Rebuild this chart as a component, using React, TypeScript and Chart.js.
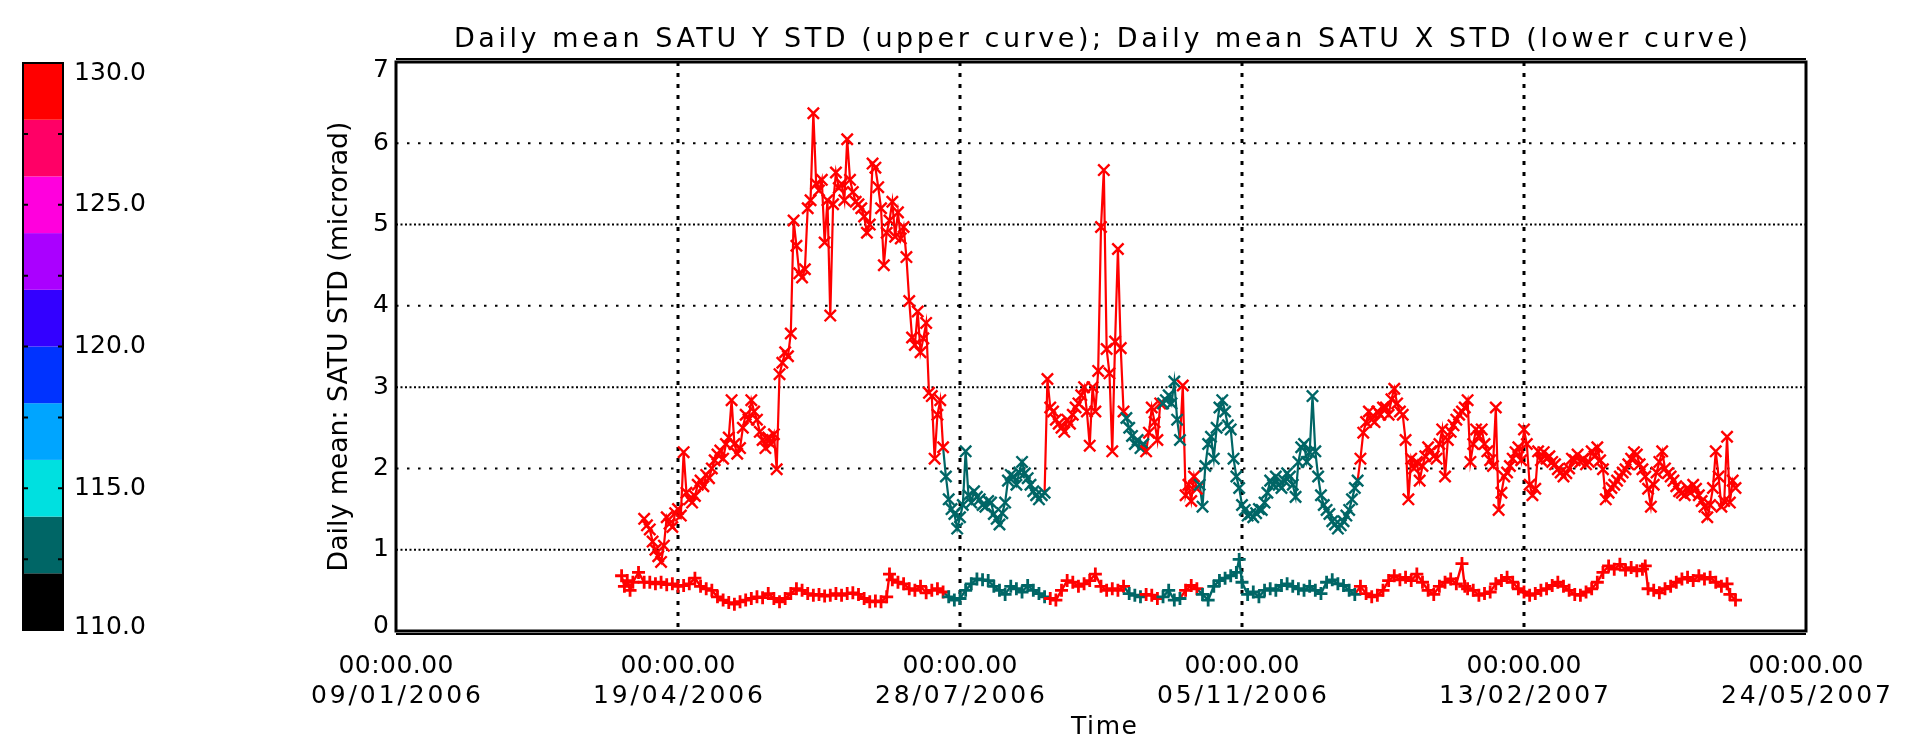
import React, { useEffect, useRef } from "react";
import { Chart, registerables } from "chart.js";

Chart.register(...registerables);

// ---------------- text ----------------
const TITLE = "Daily mean SATU Y STD (upper curve); Daily mean SATU X STD (lower curve)";
const Y_TITLE = "Daily mean: SATU STD (microrad)";
const X_TITLE = "Time";

// ---------------- axes (x in days since 09/01/2006 00:00) ----------------
const xTickDays = [0, 100, 200, 300, 400, 500];
const xTickTimes = ["00:00.00", "00:00.00", "00:00.00", "00:00.00", "00:00.00", "00:00.00"];
const xTickDates = ["09/01/2006", "19/04/2006", "28/07/2006", "05/11/2006", "13/02/2007", "24/05/2007"];
const yTickValues = [0, 1, 2, 3, 4, 5, 6, 7];
const yTickLabels = ["0", "1", "2", "3", "4", "5", "6", "7"];

// ---------------- colour bar ----------------
const colorbarLevels = [110, 112, 114, 116, 118, 120, 122, 124, 126, 128, 130];
const colorbarColors = ["#000000", "#006666", "#00e0e0", "#00a5ff", "#0033ff", "#3300ff", "#aa00ff", "#ff00dd", "#ff0066", "#ff0000"];
const colorbarTickValues = [112.5, 115, 117.5, 120, 122.5, 125, 127.5];
const colorbarLabelValues = [130, 125, 120, 115, 110];
const colorbarLabels = ["130.0", "125.0", "120.0", "115.0", "110.0"];

// day spans where the colour-coded quantity is in the 112-114 band (teal); else 128-130 (red)
const tealSpans = [[195, 230], [259, 265], [272, 278], [285, 341]];
const RED = "#ff0000";
const TEAL = "#006666";

// ---------------- upper curve: daily mean SATU Y STD, one value per day from day 88 ----------------
const upperStartDay = 88;
const upperValues = [
  1.38, 1.30, 1.25, 1.10, 1.00, 0.92, 0.85, 1.05, 1.40, 1.32, 1.28, 1.45,
  1.50, 1.42, 2.20, 1.70, 1.62, 1.58, 1.66, 1.80, 1.85, 1.78, 1.92, 1.88,
  2.00, 2.10, 2.17, 2.22, 2.12, 2.30, 2.38, 2.84, 2.30, 2.18, 2.25, 2.50,
  2.66, 2.60, 2.84, 2.70, 2.60, 2.45, 2.35, 2.25, 2.38, 2.30, 2.42, 1.99,
  3.16, 3.30, 3.43, 3.38, 3.66, 5.05, 4.74, 4.40, 4.35, 4.45, 5.20, 5.30,
  6.37, 5.50, 5.42, 5.55, 4.78, 5.30, 3.88, 5.25, 5.64, 5.45, 5.50, 5.30,
  6.05, 5.55, 5.40, 5.28, 5.25, 5.20, 5.10, 4.90, 5.00, 5.75, 5.70, 5.46,
  5.20, 4.50, 4.90, 5.05, 5.28, 4.85, 5.15, 4.83, 4.97, 4.60, 4.06, 3.61,
  3.52, 3.93, 3.43, 3.60, 3.79, 2.93, 2.89, 2.12, 2.66, 2.84, 2.26, 1.90,
  1.62, 1.50, 1.44, 1.26, 1.40, 1.55, 2.21, 1.67, 1.58, 1.72, 1.65, 1.62,
  1.55, 1.53, 1.60, 1.58, 1.44, 1.38, 1.31, 1.45, 1.58, 1.85, 1.92, 1.90,
  1.80, 1.95, 2.08, 1.94, 1.88, 1.80, 1.72, 1.67, 1.62, 1.67, 1.70, 3.10,
  2.75, 2.70, 2.60, 2.55, 2.50, 2.45, 2.60, 2.55, 2.66, 2.75, 2.80, 2.90,
  3.00, 2.70, 2.28, 3.00, 2.70, 3.20, 4.97, 5.67, 3.47, 3.17, 2.21, 3.56,
  4.70, 3.48, 2.70, 2.62, 2.50, 2.40, 2.30, 2.35, 2.25, 2.30, 2.21, 2.44,
  2.75, 2.57, 2.35, 2.80, 2.80, 2.84, 2.90, 2.80, 3.07, 2.60, 2.35, 3.02,
  1.67, 1.80, 1.60, 1.90, 1.75, 1.80, 1.53, 2.03, 2.30, 2.39, 2.12, 2.50,
  2.75, 2.84, 2.70, 2.53, 2.48, 2.12, 1.90, 1.76, 1.55, 1.49, 1.42, 1.44,
  1.40, 1.45, 1.50, 1.49, 1.58, 1.70, 1.85, 1.80, 1.90, 1.80, 1.76, 1.85,
  1.94, 1.90, 1.80, 1.65, 2.08, 2.26, 2.30, 2.08, 2.20, 2.89, 2.21, 1.90,
  1.67, 1.55, 1.49, 1.44, 1.35, 1.31, 1.26, 1.30, 1.35, 1.42, 1.49, 1.62,
  1.76, 1.85, 2.12, 2.44, 2.57, 2.70, 2.60, 2.57, 2.70, 2.66, 2.75, 2.75,
  2.66, 2.85, 2.98, 2.80, 2.70, 2.66, 2.35, 1.62, 2.12, 2.00, 2.08, 1.85,
  2.03, 2.15, 2.26, 2.21, 2.15, 2.12, 2.30, 2.48, 1.90, 2.35, 2.45, 2.53,
  2.60, 2.66, 2.70, 2.75, 2.84, 2.08, 2.30, 2.48, 2.40, 2.48, 2.30, 2.21,
  2.10, 2.03, 2.75, 1.49, 1.70, 1.90, 1.95, 2.03, 2.12, 2.20, 2.26, 2.10,
  2.48, 2.30, 1.80, 1.67, 1.75, 2.21, 2.10, 2.20, 2.12, 2.15, 2.08, 2.05,
  1.99, 1.95, 1.90, 1.94, 2.00, 2.12, 2.10, 2.17, 2.08, 2.12, 2.05, 2.08,
  2.21, 2.15, 2.26, 2.10, 1.99, 1.62, 1.70, 1.76, 1.80, 1.85, 1.90, 1.95,
  1.99, 2.05, 2.12, 2.20, 2.17, 2.05, 1.99, 1.90, 1.75, 1.53, 1.80, 1.95,
  2.08, 2.21, 2.00, 1.94, 1.90, 1.85, 1.78, 1.72, 1.70, 1.67, 1.76, 1.70,
  1.80, 1.75, 1.67, 1.60, 1.53, 1.40, 1.55, 1.76, 2.21, 1.90, 1.53, 1.60,
  2.39, 1.58, 1.85, 1.76,
];

// ---------------- lower curve: daily mean SATU X STD ----------------
const lowerDays = [
  80, 81, 82, 83, 84, 86, 88, 90, 92, 94, 96, 98, 100, 102, 104, 106, 108, 110,
  112, 114, 116, 118, 120, 122, 124, 126, 128, 130, 132, 134, 136, 138, 140,
  142, 144, 146, 148, 150, 152, 154, 156, 158, 160, 162, 164, 166, 168, 170,
  172, 174, 175, 176, 178, 180, 182, 184, 186, 188, 190, 192, 194, 196, 198,
  200, 202, 204, 206, 208, 210, 212, 214, 216, 218, 220, 222, 224, 226, 228,
  230, 232, 234, 236, 238, 240, 242, 244, 246, 248, 250, 252, 254, 256, 258,
  260, 262, 264, 266, 268, 270, 272, 274, 276, 278, 280, 282, 284, 286, 288,
  290, 292, 294, 296, 298, 299, 300, 302, 304, 306, 308, 310, 312, 314, 316,
  318, 320, 322, 324, 326, 328, 330, 332, 334, 336, 338, 340, 342, 344, 346,
  348, 350, 352, 354, 356, 358, 360, 362, 364, 366, 368, 370, 372, 374, 376,
  378, 379, 380, 382, 384, 386, 388, 390, 392, 394, 396, 398, 400, 402, 404,
  406, 408, 410, 412, 414, 416, 418, 420, 422, 424, 426, 428, 430, 432, 434,
  436, 438, 440, 442, 443, 444, 446, 448, 450, 452, 454, 456, 458, 460, 462,
  464, 466, 468, 470, 472, 473, 475,
];
const lowerValues = [
  0.68, 0.55, 0.62, 0.50, 0.60, 0.72, 0.60, 0.60, 0.58, 0.60, 0.57, 0.58, 0.55, 0.56, 0.58, 0.65, 0.55, 0.52,
  0.50, 0.42, 0.38, 0.35, 0.33, 0.36, 0.38, 0.40, 0.42, 0.41, 0.46, 0.40, 0.36, 0.40, 0.46,
  0.52, 0.50, 0.46, 0.44, 0.45, 0.43, 0.44, 0.46, 0.44, 0.46, 0.47, 0.45, 0.40, 0.36, 0.37,
  0.36, 0.42, 0.70, 0.63, 0.60, 0.58, 0.52, 0.50, 0.55, 0.47, 0.50, 0.52, 0.48, 0.42, 0.38,
  0.40, 0.50, 0.58, 0.64, 0.63, 0.62, 0.55, 0.50, 0.45, 0.55, 0.52, 0.48, 0.56, 0.50, 0.46,
  0.42, 0.40, 0.38, 0.50, 0.62, 0.60, 0.55, 0.58, 0.62, 0.70, 0.55, 0.50, 0.52, 0.50, 0.55,
  0.46, 0.44, 0.42, 0.45, 0.44, 0.40, 0.42, 0.50, 0.38, 0.40, 0.50, 0.56, 0.52, 0.45, 0.38,
  0.55, 0.62, 0.65, 0.68, 0.72, 0.88, 0.60, 0.45, 0.48, 0.42, 0.50, 0.52, 0.50, 0.56, 0.58,
  0.55, 0.52, 0.50, 0.55, 0.50, 0.46, 0.60, 0.63, 0.58, 0.56, 0.50, 0.45, 0.55, 0.46, 0.42,
  0.44, 0.50, 0.62, 0.68, 0.63, 0.66, 0.62, 0.70, 0.60, 0.50, 0.45, 0.55, 0.60, 0.64, 0.58,
  0.83, 0.55, 0.52, 0.50, 0.44, 0.46, 0.48, 0.58, 0.62, 0.66, 0.60, 0.52, 0.48, 0.44, 0.46,
  0.50, 0.52, 0.56, 0.60, 0.55, 0.50, 0.45, 0.44, 0.48, 0.52, 0.60, 0.72, 0.80, 0.76, 0.82,
  0.75, 0.78, 0.74, 0.76, 0.80, 0.52, 0.50, 0.47, 0.52, 0.55, 0.60, 0.64, 0.66, 0.62, 0.68,
  0.64, 0.66, 0.60, 0.55, 0.58, 0.45, 0.38,
];

// ---------------- helpers ----------------
const FONT = '"DejaVu Sans", "Liberation Sans", sans-serif';

function colourForDay(d: number): string {
  for (const [a, b] of tealSpans) if (d >= a && d <= b) return TEAL;
  return RED;
}

function fitText(
  ctx: CanvasRenderingContext2D,
  text: string,
  x: number,
  y: number,
  size: number,
  target: number,
  align: "left" | "center" | "right"
) {
  ctx.font = `${size}px ${FONT}`;
  (ctx as any).letterSpacing = "0px";
  let w = ctx.measureText(text).width;
  let spacing = 0;
  if (target > 0) {
    if (w > target) {
      size = (size * target) / w;
      ctx.font = `${size}px ${FONT}`;
      w = ctx.measureText(text).width;
    } else if (text.length > 1) {
      spacing = (target - w) / (text.length - 1);
    }
  }
  const total = w + spacing * (text.length - 1);
  let sx = x;
  if (align === "center") sx = x - total / 2;
  else if (align === "right") sx = x - total;
  (ctx as any).letterSpacing = `${spacing}px`;
  ctx.textAlign = "left";
  ctx.fillText(text, sx, y);
  (ctx as any).letterSpacing = "0px";
}

const decorPlugin = {
  id: "decor",
  beforeDatasetsDraw(chart: any) {
    const { ctx, chartArea: a, scales } = chart;
    const xs = scales.x;
    const ys = scales.y;
    ctx.save();
    ctx.strokeStyle = "#000";
    // horizontal dotted grid
    yTickValues.forEach((v) => {
      if (v === 0 || v === 7) return;
      const py = ys.getPixelForValue(v);
      ctx.lineWidth = 2;
      ctx.setLineDash(v % 2 === 1 ? [2, 2.5] : [2.5, 8.5]);
      ctx.beginPath();
      ctx.moveTo(a.left, py);
      ctx.lineTo(a.right, py);
      ctx.stroke();
    });
    // vertical dotted grid
    xTickDays.forEach((d) => {
      if (d === 0 || d === 500) return;
      const px = xs.getPixelForValue(d);
      ctx.lineWidth = 3;
      ctx.setLineDash([4, 7]);
      ctx.beginPath();
      ctx.moveTo(px, a.top);
      ctx.lineTo(px, a.bottom);
      ctx.stroke();
    });
    ctx.restore();
  },
  afterDraw(chart: any) {
    const { ctx, chartArea: a, scales } = chart;
    const xs = scales.x;
    const ys = scales.y;
    ctx.save();
    ctx.setLineDash([]);
    ctx.strokeStyle = "#000";
    // frame
    ctx.lineWidth = 3;
    ctx.strokeRect(a.left, a.top, a.right - a.left, a.bottom - a.top);
    ctx.lineWidth = 2;
    ctx.beginPath();
    ctx.moveTo(a.left, a.bottom + 3);
    ctx.lineTo(a.right, a.bottom + 3);
    ctx.moveTo(a.left, a.top - 3);
    ctx.lineTo(a.right, a.top - 3);
    ctx.stroke();

    ctx.fillStyle = "#000";
    ctx.textBaseline = "middle";
    // title
    fitText(ctx, TITLE, (a.left + a.right) / 2, 40, 27, 1294, "center");
    // y ticks
    yTickValues.forEach((v, i) => {
      let py = ys.getPixelForValue(v);
      py = Math.min(Math.max(py, a.top + 8), a.bottom - 5);
      fitText(ctx, yTickLabels[i], 389, py, 25, 0, "right");
    });
    // x ticks (two lines)
    xTickDays.forEach((d, i) => {
      const px = xs.getPixelForValue(d);
      fitText(ctx, xTickTimes[i], px, 666, 25, 115, "center");
      fitText(ctx, xTickDates[i], px, 696, 25, 170, "center");
    });
    // axis titles
    fitText(ctx, X_TITLE, (a.left + a.right) / 2 + 3, 727, 25, 66, "center");
    ctx.save();
    ctx.translate(340, (a.top + a.bottom) / 2);
    ctx.rotate(-Math.PI / 2);
    fitText(ctx, Y_TITLE, 0, 0, 27, 450, "center");
    ctx.restore();

    // colour bar
    const bx0 = 23;
    const bx1 = 63;
    const by0 = a.top + 1;
    const by1 = a.bottom - 1;
    const lo = colorbarLevels[0];
    const hi = colorbarLevels[colorbarLevels.length - 1];
    const vy = (v: number) => by1 - ((v - lo) / (hi - lo)) * (by1 - by0);
    for (let i = 0; i < colorbarColors.length; i++) {
      const yTop = vy(colorbarLevels[i + 1]);
      const yBot = vy(colorbarLevels[i]);
      ctx.fillStyle = colorbarColors[i];
      ctx.fillRect(bx0, yTop, bx1 - bx0, yBot - yTop);
    }
    ctx.lineWidth = 2;
    ctx.strokeStyle = "#000";
    ctx.strokeRect(bx0, by0, bx1 - bx0, by1 - by0);
    ctx.beginPath();
    colorbarTickValues.forEach((v) => {
      const py = vy(v);
      ctx.moveTo(bx0, py);
      ctx.lineTo(bx0 + 5, py);
      ctx.moveTo(bx1 - 5, py);
      ctx.lineTo(bx1, py);
    });
    ctx.stroke();
    ctx.fillStyle = "#000";
    colorbarLabelValues.forEach((v, i) => {
      let py = vy(v);
      py = Math.min(Math.max(py, by0 + 10), by1 - 3);
      fitText(ctx, colorbarLabels[i], 74, py, 25, 72, "left");
    });
    ctx.restore();
  },
};

export default function App() {
  const canvasRef = useRef<HTMLCanvasElement | null>(null);

  useEffect(() => {
    const canvas = canvasRef.current;
    if (!canvas) return;

    const upperPoints = upperValues.map((v, i) => ({ x: upperStartDay + i, y: v }));
    const upperColours = upperPoints.map((p) => colourForDay(p.x));
    const lowerPoints = lowerValues.map((v, i) => ({ x: lowerDays[i], y: v }));
    const lowerColours = lowerPoints.map((p) => colourForDay(p.x));

    const chart = new Chart(canvas, {
      type: "line",
      data: {
        datasets: [
          {
            label: "SATU Y STD",
            data: upperPoints,
            borderColor: RED,
            borderWidth: 2.2,
            pointStyle: "crossRot",
            pointRadius: 8,
            pointBorderWidth: 2.4,
            pointBorderColor: upperColours,
            pointBackgroundColor: "transparent",
            tension: 0,
            segment: {
              borderColor: (c: any) => upperColours[c.p1DataIndex],
            },
          },
          {
            label: "SATU X STD",
            data: lowerPoints,
            borderColor: RED,
            borderWidth: 2.4,
            pointStyle: "cross",
            pointRadius: 6.5,
            pointBorderWidth: 2.8,
            pointBorderColor: lowerColours,
            pointBackgroundColor: "transparent",
            tension: 0,
            segment: {
              borderColor: (c: any) => lowerColours[c.p1DataIndex],
            },
          },
        ],
      },
      options: {
        animation: false,
        responsive: false,
        devicePixelRatio: 1,
        events: [],
        layout: { padding: { left: 0, top: 62, right: 101, bottom: 0 } },
        plugins: {
          legend: { display: false },
          tooltip: { enabled: false },
          title: { display: false },
        },
        scales: {
          x: {
            type: "linear",
            min: xTickDays[0],
            max: xTickDays[xTickDays.length - 1],
            ticks: { display: false, stepSize: 100 },
            grid: { display: false, drawTicks: false },
            border: { display: false },
            afterFit: (s: any) => {
              s.height = 754 - 631;
            },
          },
          y: {
            type: "linear",
            min: yTickValues[0],
            max: yTickValues[yTickValues.length - 1],
            ticks: { display: false, stepSize: 1 },
            grid: { display: false, drawTicks: false },
            border: { display: false },
            afterFit: (s: any) => {
              s.width = 396;
            },
          },
        },
      },
      plugins: [decorPlugin],
    });

    return () => chart.destroy();
  }, []);

  return (
    <div style={{ position: "absolute", left: 0, top: 0, width: 1907, height: 754, background: "#fff" }}>
      <canvas ref={canvasRef} width={1907} height={754} style={{ width: 1907, height: 754, display: "block" }} />
    </div>
  );
}
